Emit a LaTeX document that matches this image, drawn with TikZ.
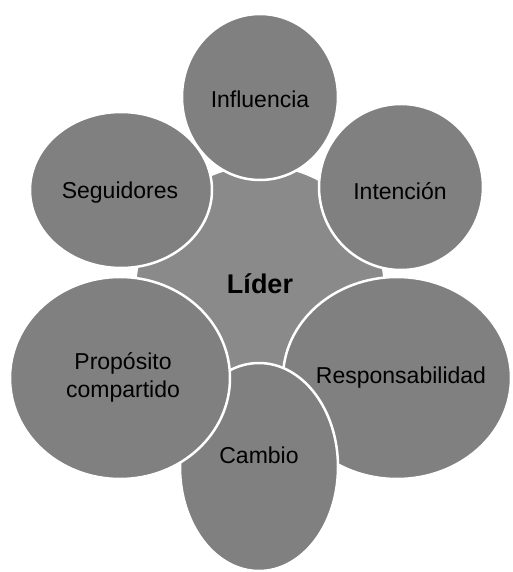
\documentclass[tikz,border=0pt]{standalone}
\usepackage{fontspec}
\setmainfont{Liberation Sans}
\usetikzlibrary{shapes.geometric}
\begin{document}
\begin{tikzpicture}[x=1pt,y=-1pt,
  petal/.style={ellipse,draw=white,line width=2.5pt,fill=black!50,inner sep=0pt},
  hub/.style={circle,draw=white,line width=2.5pt,fill=black!46,inner sep=0pt},
  lbl/.style={font=\fontsize{23}{27}\selectfont,text=black,align=center}]
\useasboundingbox (0,0) rectangle (513,572);
\node[hub,minimum size=250pt] (hubc) at (260,290) {};
\node[petal,minimum width=156pt,minimum height=166pt] (infl) at (260,97) {};
\node[petal,minimum width=164pt,minimum height=166pt] (inte) at (401,187) {};
\node[petal,minimum width=228pt,minimum height=202pt] (resp) at (397,378) {};
\node[petal,minimum width=158pt,minimum height=208pt] (camb) at (259,467) {};
\node[petal,minimum width=220pt,minimum height=202pt] (prop) at (120,378) {};
\node[petal,minimum width=182pt,minimum height=156pt] (segu) at (121,190) {};
\node[lbl] (tinfl) at (260,99) {Influencia};
\node[lbl] (tinte) at (400,191) {Intención};
\node[lbl] (tresp) at (401,378) {Responsabilidad};
\node[lbl] (tcamb) at (259,455) {Cambio};
\node[lbl,font=\fontsize{23}{28}\selectfont] (tprop) at (123,377) {Propósito\\compartido};
\node[lbl] (tsegu) at (120,193) {Seguidores};
\node[font=\bfseries\fontsize{27}{30}\selectfont] (tlider) at (260,284) {Líder};
\end{tikzpicture}
\end{document}
